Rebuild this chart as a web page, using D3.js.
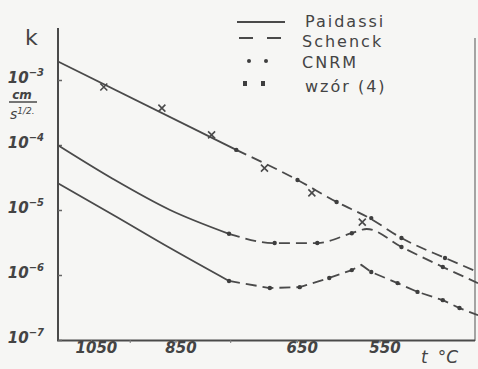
<!DOCTYPE html>
<html>
<head>
<meta charset="utf-8">
<script src="https://cdn.jsdelivr.net/npm/d3@7"></script>
<style>
  body { margin: 0; background: #f6f6f4; }
  svg { display: block; }
  .hand { font-family: "DejaVu Sans", sans-serif; fill: #444; }
</style>
</head>
<body>
<div id="chart"></div>
<script>
// temperatures in deg C, k in cm/s^1/2
const paidA_t = [1150, 740];
const paidA_k = [1.94e-3, 8.4e-5];
const paidB_t = [1150, 991, 861, 752];
const paidB_k = [1.0e-4, 3.0e-5, 1.0e-5, 4.3e-6];
const paidC_t = [1150, 986, 861, 752];
const paidC_k = [2.6e-5, 8.1e-6, 2.6e-6, 8.1e-7];

const schA_t = [740, 649, 599, 561, 527, 485, 456];
const schA_k = [8.4e-5, 2.9e-5, 1.33e-5, 7.5e-6, 3.7e-6, 1.83e-6, 1.11e-6];
const schB_t = [752, 681, 623, 581, 564, 527, 487, 456];
const schB_k = [4.3e-6, 3.1e-6, 3.1e-6, 4.4e-6, 5.1e-6, 2.7e-6, 1.33e-6, 7.5e-7];
const schC_t = [752, 688, 646, 608, 581, 570, 559, 531, 511, 487, 472, 456];
const schC_k = [8.1e-7, 6.3e-7, 6.5e-7, 9.0e-7, 1.19e-6, 1.43e-6, 1.11e-6, 7.5e-7, 5.5e-7, 4.1e-7, 3.1e-7, 2.4e-7];

// CNRM points
const cnrm_t = [740, 649, 599, 559, 527, 485, 752, 681, 623, 581, 527, 487, 752, 688, 646, 608, 581, 559, 531, 511, 487, 472];
const cnrm_k = [8.4e-5, 2.9e-5, 1.33e-5, 7.5e-6, 3.7e-6, 1.83e-6, 4.3e-6, 3.1e-6, 3.1e-6, 4.4e-6, 2.7e-6, 1.33e-6,
                8.1e-7, 6.3e-7, 6.5e-7, 9.0e-7, 1.19e-6, 1.11e-6, 7.5e-7, 5.5e-7, 4.1e-7, 3.1e-7];

// wzor (4)
const wzor_t = [1015, 878, 782, 696, 630, 569];
const wzor_k = [7.8e-4, 3.7e-4, 1.43e-4, 4.4e-5, 1.83e-5, 6.5e-6];

const xTicks = [1050, 950, 850, 750, 650, 550];
const xLabels = ["1050", "", "850", "", "650", "550"];
const yTicks = [1e-3, 1e-4, 1e-5, 1e-6, 1e-7];
const yExp = ["-3", "-4", "-5", "-6", "-7"];

const legendNames = ["Paidassi", "Schenck", "CNRM", "wzór (4)"];

const W = 478, H = 369;
const ink = "#4a4a4a";

const svg = d3.select("#chart").append("svg")
  .attr("width", W).attr("height", H)
  .style("background", "#f6f6f4");

// x is linear in 1000/T
const inv = d3.scaleLinear()
  .domain([1000 / (1150 + 273), 1000 / (456 + 273)])
  .range([57.5, 478]);
const x = t => inv(1000 / (t + 273));
const y = d3.scaleLog().domain([1e-7, 1e-3]).range([340, 80]);

const zip = (ts, ks) => ts.map((t, i) => [t, ks[i]]);
const line = d3.line().x(d => x(d[0])).y(d => y(d[1])).curve(d3.curveMonotoneX);
const lineSharp = d3.line().x(d => x(d[0])).y(d => y(d[1]));

// frame
svg.append("line").attr("x1", 58).attr("x2", 58).attr("y1", 28).attr("y2", 341)
  .attr("stroke", ink).attr("stroke-width", 2);
svg.append("line").attr("x1", 475).attr("x2", 475).attr("y1", 38).attr("y2", 341)
  .attr("stroke", "#777").attr("stroke-width", 1.3);

// axes
const xAxis = svg.append("g")
  .attr("transform", "translate(0,340)")
  .call(d3.axisBottom(inv)
    .tickValues(xTicks.map(t => 1000 / (t + 273)))
    .tickSize(3).tickSizeOuter(0)
    .tickFormat((d, i) => xLabels[i]));
xAxis.select(".domain").attr("stroke", ink).attr("stroke-width", 2)
  .attr("d", "M57,0.5H475");
xAxis.selectAll(".tick line").attr("stroke", "#777");
xAxis.selectAll(".tick text")
  .attr("class", "hand")
  .attr("dx", 5).attr("dy", 7)
  .style("font-size", "15px").style("font-style", "italic").style("font-weight", "600")
  .attr("fill", "#444");

const yAxis = svg.append("g")
  .attr("transform", "translate(58,0)")
  .call(d3.axisLeft(y).tickValues(yTicks).tickSize(-4).tickSizeOuter(0).tickFormat(""));
yAxis.select(".domain").remove();
yAxis.selectAll(".tick line").attr("stroke", "#666").attr("stroke-width", 1.5);

const yl = svg.append("g").selectAll("text").data(yTicks).join("text")
  .attr("class", "hand")
  .attr("x", 44).attr("y", d => y(d) + 3)
  .attr("text-anchor", "end")
  .style("font-size", "15px").style("font-style", "italic").style("font-weight", "600");
yl.append("tspan").text("10");
yl.append("tspan").attr("dy", -7).style("font-size", "10px").text((d, i) => yExp[i].replace("-", "\u2212"));

// axis titles
svg.append("text").attr("class", "hand").attr("x", 25).attr("y", 45)
  .style("font-size", "22px").text("k");
svg.append("text").attr("class", "hand").attr("x", 22).attr("y", 99)
  .attr("text-anchor", "middle").style("font-size", "12px").style("font-style", "italic")
  .style("font-weight", "600").text("cm");
svg.append("line").attr("x1", 9).attr("x2", 37).attr("y1", 102).attr("y2", 102)
  .attr("stroke", ink).attr("stroke-width", 1.5);
const su = svg.append("text").attr("class", "hand").attr("x", 10).attr("y", 119)
  .style("font-size", "14px").style("font-style", "italic");
su.append("tspan").text("s");
su.append("tspan").attr("dy", -5).style("font-size", "9px").text("1/2.");
const tl = svg.append("text").attr("class", "hand").attr("x", 421).attr("y", 363)
  .style("font-size", "17px").style("font-style", "italic");
tl.append("tspan").text("t");
tl.append("tspan").attr("dx", 10).text("°C");

// Paidassi solid
[zip(paidA_t, paidA_k), zip(paidB_t, paidB_k), zip(paidC_t, paidC_k)].forEach(s => {
  svg.append("path").attr("d", line(s))
    .attr("fill", "none").attr("stroke", ink).attr("stroke-width", 1.8);
});

// Schenck / CNRM dashed
[[zip(schA_t, schA_k), line], [zip(schB_t, schB_k), line], [zip(schC_t, schC_k), lineSharp]].forEach(([s, gen]) => {
  svg.append("path").attr("d", gen(s))
    .attr("fill", "none").attr("stroke", ink).attr("stroke-width", 1.8)
    .attr("stroke-dasharray", "11,6");
});

svg.append("g").selectAll("circle").data(zip(cnrm_t, cnrm_k)).join("circle")
  .attr("cx", d => x(d[0])).attr("cy", d => y(d[1])).attr("r", 2.2)
  .attr("fill", "#3e3e3e");

// crosses
svg.append("g").selectAll("path").data(zip(wzor_t, wzor_k)).join("path")
  .attr("d", d => {
    const cx = x(d[0]), cy = y(d[1]), s = 3.5;
    return `M${cx - s},${cy - s}L${cx + s},${cy + s}M${cx - s},${cy + s}L${cx + s},${cy - s}`;
  })
  .attr("stroke", ink).attr("stroke-width", 1.6);

// legend
const lg = svg.append("g");
lg.append("line").attr("x1", 237).attr("x2", 285).attr("y1", 22).attr("y2", 22)
  .attr("stroke", ink).attr("stroke-width", 2);
lg.append("line").attr("x1", 239).attr("x2", 282).attr("y1", 38).attr("y2", 38)
  .attr("stroke", ink).attr("stroke-width", 2).attr("stroke-dasharray", "14,14");
lg.selectAll("circle").data([249, 266]).join("circle")
  .attr("cx", d => d).attr("cy", 61).attr("r", 2).attr("fill", "#3e3e3e");
lg.selectAll("rect").data([245, 263]).join("rect")
  .attr("x", d => d - 2).attr("y", 81).attr("width", 4).attr("height", 5).attr("fill", "#3e3e3e");
lg.selectAll("text").data(legendNames).join("text")
  .attr("class", "hand")
  .attr("x", (d, i) => [305, 302, 302, 305][i])
  .attr("y", (d, i) => [27, 47, 68, 92][i])
  .style("font-size", "16px").style("letter-spacing", "2px")
  .text(d => d);
</script>
</body>
</html>
